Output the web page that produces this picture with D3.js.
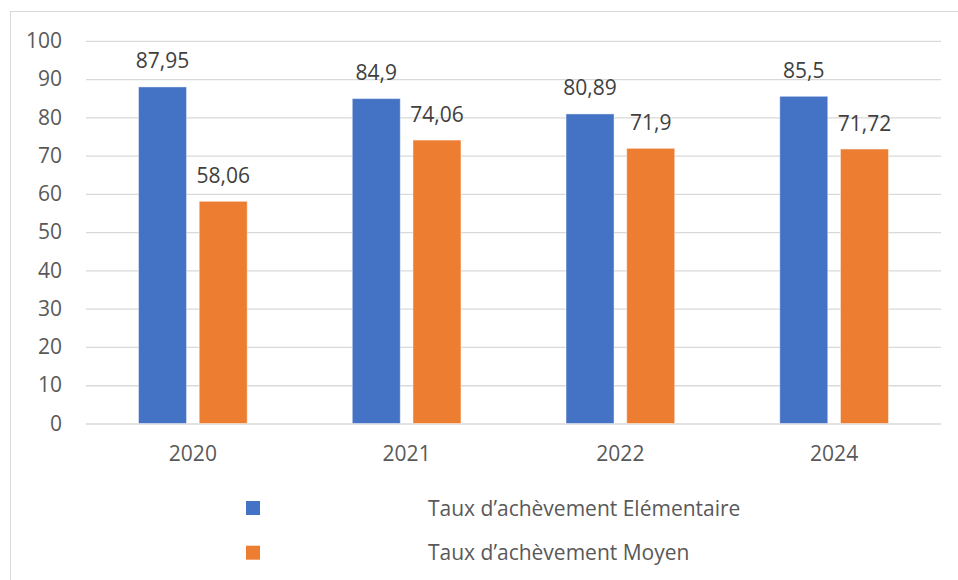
<!DOCTYPE html>
<html>
<head>
<meta charset="utf-8">
<script src="https://cdn.jsdelivr.net/npm/d3@7"></script>
<style>
  html, body { margin: 0; padding: 0; background: #fff; }
  svg { display: block; }
  text { font-family: "Open Sans", sans-serif; fill: #595959; }
</style>
</head>
<body>
<svg id="chart" width="958" height="580"></svg>
<script>
const categories = ["2020", "2021", "2022", "2024"];
const seriesNames = ["Taux d’achèvement Elémentaire", "Taux d’achèvement Moyen"];
const elementaire = [87.95, 84.9, 80.89, 85.5];
const moyen = [58.06, 74.06, 71.9, 71.72];
const yTicks = [0, 10, 20, 30, 40, 50, 60, 70, 80, 90, 100];
const colors = ["#4472C4", "#ED7D31"];

const seriesValues = [elementaire, moyen];
const fmt = v => String(v).replace(".", ",");

const svg = d3.select("#chart");
const fontSize = 21;

// Outer chart border (light gray)
svg.append("rect")
  .attr("x", 10.5).attr("y", 11.5)
  .attr("width", 958).attr("height", 580)
  .attr("fill", "none").attr("stroke", "#d9d9d9").attr("stroke-width", 1);

const plotLeft = 86, plotRight = 941, plotTop = 40.8, plotBottom = 423.5;

const x = d3.scaleBand().domain(categories).range([plotLeft, plotRight])
  .paddingInner(0.4915).paddingOuter(0.4915 / 2);
const xs = d3.scaleBand().domain([0, 1]).range([0, x.bandwidth()])
  .paddingInner(0.209).paddingOuter(0);
const y = d3.scaleLinear().domain([0, 100]).range([plotBottom, plotTop]);

// Y axis with gridlines
const yAxis = svg.append("g")
  .attr("transform", `translate(${plotLeft},0)`)
  .call(d3.axisLeft(y).tickValues(yTicks).tickSizeInner(-(plotRight - plotLeft)).tickSizeOuter(0).tickPadding(24));
yAxis.select(".domain").remove();
yAxis.selectAll(".tick line").attr("stroke", "#d9d9d9").attr("stroke-width", 1.3);
yAxis.selectAll(".tick text").attr("font-size", fontSize).attr("fill", "#595959")
  .style("font-family", "'Open Sans', sans-serif");

// X axis labels
const xAxis = svg.append("g")
  .attr("transform", `translate(0,${plotBottom})`)
  .call(d3.axisBottom(x).tickSize(0).tickPadding(23));
xAxis.select(".domain").remove();
xAxis.selectAll(".tick text").attr("font-size", fontSize).attr("fill", "#595959")
  .style("font-family", "'Open Sans', sans-serif");

// Bars
const data = [];
categories.forEach((c, i) => {
  seriesValues.forEach((vals, s) => data.push({ cat: c, s, v: vals[i] }));
});

const groups = svg.append("g");
groups.selectAll("rect.bar").data(data).join("rect")
  .attr("class", "bar")
  .attr("x", d => x(d.cat) + xs(d.s))
  .attr("y", d => y(d.v))
  .attr("width", xs.bandwidth())
  .attr("height", d => y(0) - y(d.v))
  .attr("fill", d => colors[d.s])
  .attr("stroke", "#ffffff").attr("stroke-opacity", 0.45).attr("stroke-width", 1);

// Data labels
groups.selectAll("text.lbl").data(data).join("text")
  .attr("class", "lbl")
  .attr("x", d => x(d.cat) + xs(d.s) + xs.bandwidth() / 2)
  .attr("y", d => y(d.v) - 18.5)
  .attr("text-anchor", "middle")
  .attr("font-size", fontSize)
  .style("fill", "#404040")
  .text(d => fmt(d.v));

// Legend
const legend = svg.append("g");
const legendY = d3.scalePoint().domain(seriesNames).range([508, 552.7]);
const li = legend.selectAll("g").data(seriesNames).join("g")
  .attr("transform", d => `translate(0,${legendY(d)})`);
li.append("rect")
  .attr("x", 246).attr("y", -7).attr("width", 14).attr("height", 14)
  .attr("fill", (d, i) => colors[i]);
li.append("text")
  .attr("x", 428).attr("y", 0).attr("dy", "0.36em")
  .attr("font-size", fontSize)
  .text(d => d);
</script>
</body>
</html>
